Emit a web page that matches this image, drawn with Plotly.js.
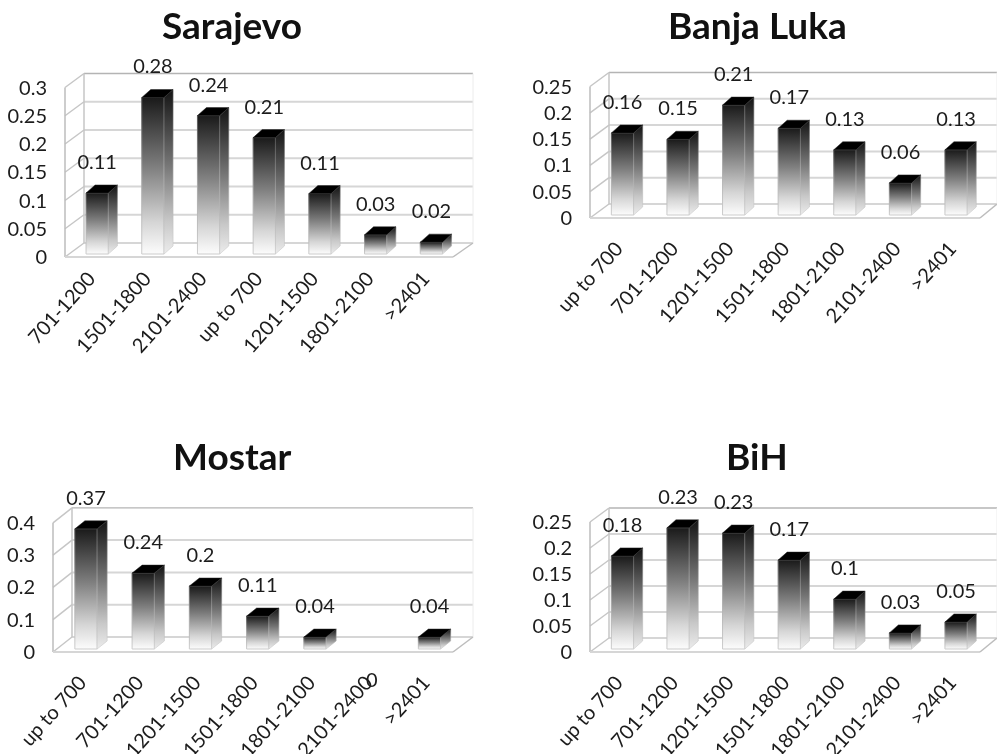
<!DOCTYPE html>
<html>
<head>
<meta charset="utf-8">
<script src="https://cdn.plot.ly/plotly-3.0.1.min.js"></script>
<style>html,body{margin:0;padding:0;background:#fff}#g{width:997px;height:754px;filter:blur(0.35px)}</style>
</head>
<body>
<div id="g"></div>
<script>
// ---- data ----
const sarajevoCategories = ['701-1200','1501-1800','2101-2400','up to 700','1201-1500','1801-2100','>2401'];
const sarajevoValues = [0.108,0.277,0.245,0.206,0.107,0.034,0.021];
const sarajevoLabels = ['0.11','0.28','0.24','0.21','0.11','0.03','0.02'];
const sarajevoTicks = [0,0.05,0.1,0.15,0.2,0.25,0.3];
const sarajevoTickText = ['0','0.05','0.1','0.15','0.2','0.25','0.3'];

const banjaLukaCategories = ['up to 700','701-1200','1201-1500','1501-1800','1801-2100','2101-2400','>2401'];
const banjaLukaValues = [0.156,0.144,0.209,0.165,0.124,0.061,0.124];
const banjaLukaLabels = ['0.16','0.15','0.21','0.17','0.13','0.06','0.13'];
const banjaLukaTicks = [0,0.05,0.1,0.15,0.2,0.25];
const banjaLukaTickText = ['0','0.05','0.1','0.15','0.2','0.25'];

const mostarCategories = ['up to 700','701-1200','1201-1500','1501-1800','1801-2100','2101-2400','>2401'];
const mostarValues = [0.372,0.235,0.195,0.102,0.037,0,0.037];
const mostarLabels = ['0.37','0.24','0.2','0.11','0.04','0','0.04'];
const mostarTicks = [0,0.1,0.2,0.3,0.4];
const mostarTickText = ['0','0.1','0.2','0.3','0.4'];

const bihCategories = ['up to 700','701-1200','1201-1500','1501-1800','1801-2100','2101-2400','>2401'];
const bihValues = [0.179,0.233,0.223,0.171,0.096,0.031,0.052];
const bihLabels = ['0.18','0.23','0.23','0.17','0.1','0.03','0.05'];
const bihTicks = [0,0.05,0.1,0.15,0.2,0.25];
const bihTickText = ['0','0.05','0.1','0.15','0.2','0.25'];

// ---- layout of each panel, in pixels ----
const W = 997, H = 754, PAD = 2, HEAD = 40;
const FONT = 'Lato, "Open Sans", sans-serif';
const TEXT = '#1c1c1c';
const panels = [
  {title:'Sarajevo', cats:sarajevoCategories, vals:sarajevoValues, labs:sarajevoLabels, ticks:sarajevoTicks, tickText:sarajevoTickText,
   left:65, right:473, top:73, bottom:257, wallX:19, wallY:14, floorRight:453, c0:97.2, step:55.7, unit:565, dx:9, dy:8, standoff:3, labelShift:8, titleX:232, titleY:25},
  {title:'Banja Luka', cats:banjaLukaCategories, vals:banjaLukaValues, labs:banjaLukaLabels, ticks:banjaLukaTicks, tickText:banjaLukaTickText,
   left:590, right:997, top:73, bottom:218, wallX:19, wallY:14, floorRight:980, c0:622.5, step:55.6, unit:526, dx:9, dy:8, standoff:12, labelShift:6, titleX:757, titleY:25},
  {title:'Mostar', cats:mostarCategories, vals:mostarValues, labs:mostarLabels, ticks:mostarTicks, tickText:mostarTickText,
   left:53, right:473, top:508, bottom:652, wallX:19, wallY:15, floorRight:453, c0:86, step:57.25, unit:323, dx:10, dy:8, standoff:12, labelShift:6, titleX:232, titleY:455},
  {title:'BiH', cats:bihCategories, vals:bihValues, labs:bihLabels, ticks:bihTicks, tickText:bihTickText,
   left:590, right:997, top:508, bottom:652, wallX:19, wallY:14, floorRight:980, c0:622.5, step:55.6, unit:520, dx:9, dy:8, standoff:12, labelShift:6, titleX:757, titleY:456}
];
const BAR_W = 22.3, BASE_PX = 3, LABEL_PX = 21, ZERO_DROP_PX = 27;

const data = [], shapes = [], annotations = [];
const layout = {width:W, height:H, margin:{l:0,r:0,t:0,b:0}, paper_bgcolor:'#fff', plot_bgcolor:'rgba(0,0,0,0)',
  showlegend:false, barmode:'overlay', font:{family:FONT,color:TEXT,size:20}, hovermode:false};

panels.forEach((p, k) => {
  const n = k === 0 ? '' : String(k + 1);
  const xa = 'x' + n, ya = 'y' + n;
  const xpx = d => d / p.step, ypx = d => d / p.unit;
  const x0 = (p.left - p.c0) / p.step;
  const xEnd = (p.right - p.c0) / p.step;
  const idx = p.cats.map((_, i) => i);

  layout['xaxis' + n] = {
    domain:[(p.left - PAD) / W, Math.min(p.right + PAD, W) / W], anchor:ya,
    range:[x0 - xpx(PAD), xEnd + xpx(p.right + PAD > W ? 0 : PAD)], showgrid:false, zeroline:false, showline:false,
    tickmode:'array', tickvals:idx.map(i => i - xpx(p.labelShift)), ticktext:p.cats, tickangle:-48, ticks:'', ticklabelstandoff:p.standoff,
    tickfont:{family:FONT,size:20,color:TEXT}, fixedrange:true
  };
  layout['yaxis' + n] = {
    domain:[1 - (p.bottom + PAD) / H, 1 - (p.top - HEAD) / H], anchor:xa,
    range:[-ypx(PAD), (p.bottom - p.top + HEAD) / p.unit], showgrid:false, zeroline:false, showline:false,
    tickmode:'array', tickvals:p.ticks, ticktext:p.tickText, ticks:'', ticklabelstandoff:15,
    tickfont:{family:FONT,size:20,color:TEXT}, fixedrange:true
  };

  // walls and floor
  const line = (xs0, ys0, xs1, ys1, color, width) => shapes.push({type:'line', xref:xa, yref:ya, layer:'below',
    x0:xs0, y0:ys0, x1:xs1, y1:ys1, line:{color, width}});
  const bx = x0 + xpx(p.wallX), wy = ypx(p.wallY);
  p.ticks.forEach((t, i) => {
    line(bx, t + wy, xEnd, t + wy, i === p.ticks.length - 1 ? '#b4b4b4' : '#d6d6d6', i === p.ticks.length - 1 ? 1.3 : 2);
    line(x0, t, bx, t + wy, '#c6c6c6', 1.5);
  });
  const topV = p.ticks[p.ticks.length - 1];
  line(x0, 0, x0, topV, '#bdbdbd', 1.5);
  line(bx, wy, bx, topV + wy, '#c6c6c6', 1.5);
  line(xEnd, wy, xEnd, topV + wy, '#ececec', 1);
  const fx = (p.floorRight - p.c0) / p.step;
  line(x0, 0, fx, 0, '#d6d6d6', 2);
  line(fx, 0, xEnd, wy, '#bdbdbd', 1.5);

  // bars: front face through the bar trace, depth faces from the same values
  const base = ypx(BASE_PX), hw = BAR_W / 2 / p.step, ddx = xpx(p.dx), ddy = ypx(p.dy);
  const drawn = idx.filter(i => p.vals[i] > 0);
  data.push({type:'bar', xaxis:xa, yaxis:ya, x:drawn, y:drawn.map(i => p.vals[i]), base:drawn.map(() => base),
    width:BAR_W / p.step, marker:{color:'#888', line:{color:'#bbb', width:1}}, meta:'front', textposition:'none'});
  drawn.forEach(i => {
    const v = p.vals[i] + base;
    data.push({type:'scatter', mode:'lines', xaxis:xa, yaxis:ya, fill:'toself', meta:'side',
      x:[i + hw, i + hw + ddx, i + hw + ddx, i + hw, i + hw],
      y:[base, base + ddy, v + ddy, v, base],
      fillcolor:'#777', line:{color:'#c8c8c8', width:0.6}});
    data.push({type:'scatter', mode:'lines', xaxis:xa, yaxis:ya, fill:'toself', meta:'top',
      x:[i - hw, i + hw, i + hw + ddx, i - hw + ddx, i - hw],
      y:[v, v, v + ddy, v + ddy, v],
      fillcolor:'#000', line:{color:'#222', width:0.5}});
  });

  // value labels
  data.push({type:'scatter', mode:'text', xaxis:xa, yaxis:ya, x:drawn, cliponaxis:false,
    y:drawn.map(i => p.vals[i] + base + ddy + ypx(LABEL_PX)),
    text:drawn.map(i => p.labs[i]), textposition:'middle center', textfont:{family:FONT,size:20,color:TEXT}});
  // a zero value's label sits below the floor in the reference
  idx.filter(i => !(p.vals[i] > 0)).forEach(i => annotations.push({xref:'paper', yref:'paper',
    x:(p.c0 + p.step * i) / W, y:1 - (p.bottom + ZERO_DROP_PX) / H, xanchor:'center', yanchor:'middle',
    showarrow:false, text:p.labs[i], font:{family:FONT,size:20,color:TEXT}}));

  annotations.push({xref:'paper', yref:'paper', x:p.titleX / W, y:1 - p.titleY / H, xanchor:'center', yanchor:'middle',
    showarrow:false, text:'<b>' + p.title + '</b>', font:{family:FONT,size:37,color:'#111'}});
});
layout.shapes = shapes;
layout.annotations = annotations;

function stopEl(g, off, col){
  const s = document.createElementNS('http://www.w3.org/2000/svg','stop');
  s.setAttribute('offset', off); s.setAttribute('stop-color', col); g.appendChild(s);
}
function addGrad(defs, id, stops){
  const g = document.createElementNS('http://www.w3.org/2000/svg','linearGradient');
  g.setAttribute('id', id); g.setAttribute('x1','0'); g.setAttribute('y1','0'); g.setAttribute('x2','0'); g.setAttribute('y2','1');
  stops.forEach(s => stopEl(g, s[0], s[1])); defs.appendChild(g);
}

Plotly.newPlot('g', data, layout, {displayModeBar:false, staticPlot:true}).then(gd => {
  const svg = gd.querySelector('svg.main-svg');
  const defs = document.createElementNS('http://www.w3.org/2000/svg','defs');
  svg.insertBefore(defs, svg.firstChild);
  addGrad(defs, 'gFront', [[0,'#1a1a1a'],[0.45,'#808080'],[0.8,'#d6d6d6'],[1,'#fcfcfc']]);
  addGrad(defs, 'gSide', [[0,'#141414'],[0.45,'#747474'],[0.8,'#c8c8c8'],[1,'#ececec']]);
  addGrad(defs, 'gEdge', [[0,'#555555'],[0.5,'#a8a8a8'],[1,'#cccccc']]);
  gd.querySelectorAll('.barlayer .point path').forEach(b => {
    b.style.fill = 'url(#gFront)'; b.style.stroke = 'url(#gEdge)';
  });
  const traces = gd.querySelectorAll('.scatterlayer .trace');
  const scatterData = data.filter(t => t.type === 'scatter');
  traces.forEach((t, i) => {
    if (scatterData[i] && scatterData[i].meta === 'side') {
      const f = t.querySelector('.js-fill'); if (f) f.style.fill = 'url(#gSide)';
      const l = t.querySelector('.js-line'); if (l) l.style.stroke = 'url(#gEdge)';
    }
  });
});
</script>
</body>
</html>
